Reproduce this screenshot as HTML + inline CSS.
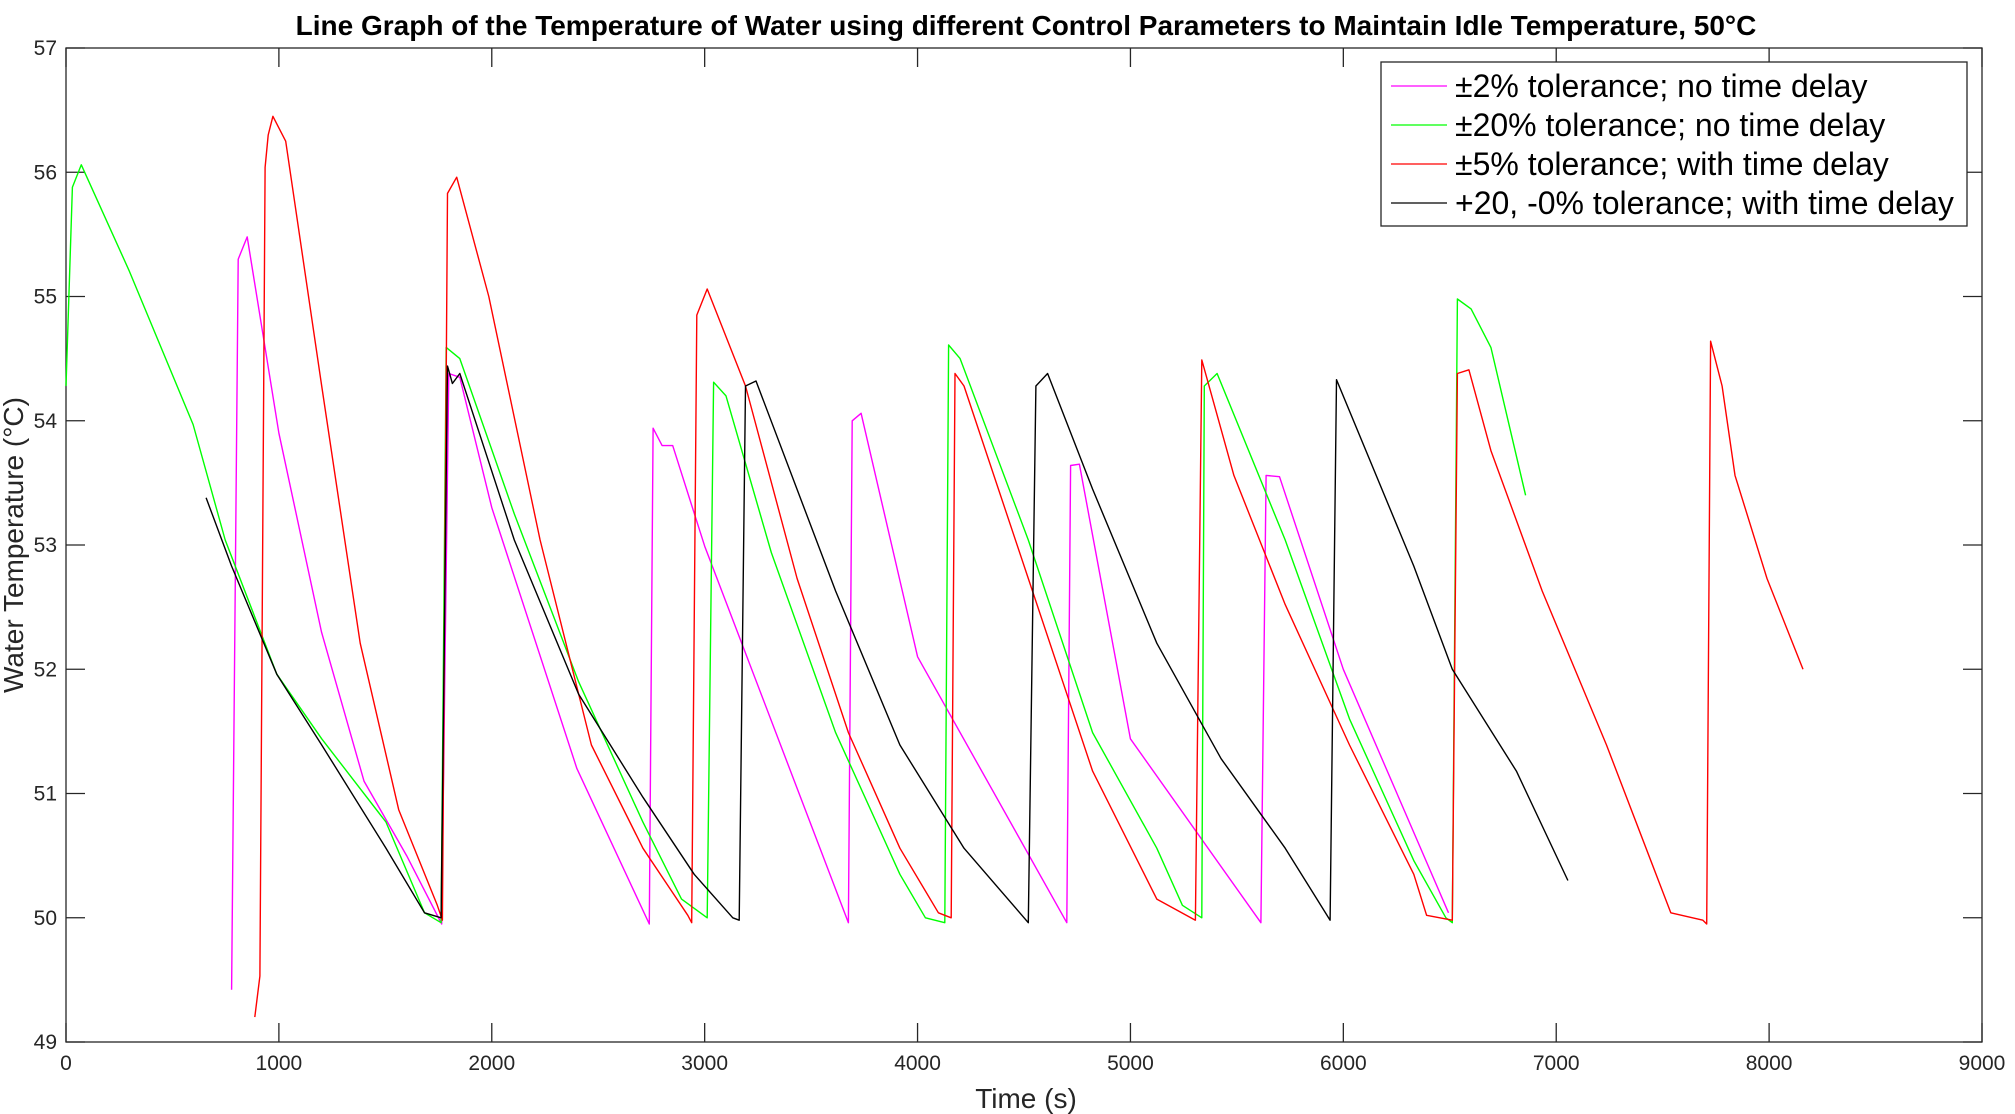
<!DOCTYPE html>
<html><head><meta charset="utf-8"><style>
html,body{margin:0;padding:0;background:#fff}
svg{display:block;font-family:"Liberation Sans",sans-serif}
</style></head><body>
<svg id="chart" width="2015" height="1114" viewBox="0 0 2015 1114" xmlns="http://www.w3.org/2000/svg">
<rect width="2015" height="1114" fill="#fff"/>
<text x="1026" y="35" text-anchor="middle" font-size="28" font-weight="bold" fill="#000">Line Graph of the Temperature of Water using different Control Parameters to Maintain Idle Temperature, 50°C</text>
<g id="axes"></g>
<g id="series"></g>
<text x="1026" y="1108" text-anchor="middle" font-size="28" fill="#262626">Time (s)</text>
<text transform="translate(23,545) rotate(-90)" text-anchor="middle" font-size="28" fill="#262626">Water Temperature (°C)</text>
<g>
<rect x="1381" y="62" width="586" height="164" fill="#fff" stroke="#262626" stroke-width="1.3"/>
<line x1="1391" y1="86" x2="1447" y2="86" stroke="#ff00ff" stroke-width="1.3"/>
<text x="1455" y="97" font-size="32" fill="#000">±2% tolerance; no time delay</text>
<line x1="1391" y1="125" x2="1447" y2="125" stroke="#00ff00" stroke-width="1.3"/>
<text x="1455" y="136" font-size="32" fill="#000">±20% tolerance; no time delay</text>
<line x1="1391" y1="164" x2="1447" y2="164" stroke="#ff0000" stroke-width="1.3"/>
<text x="1455" y="175" font-size="32" fill="#000">±5% tolerance; with time delay</text>
<line x1="1391" y1="203" x2="1447" y2="203" stroke="#000" stroke-width="1.3"/>
<text x="1455" y="214" font-size="32" fill="#000">+20, -0% tolerance; with time delay</text>
</g>
</svg>
<script>
const xTicks=[0,1000,2000,3000,4000,5000,6000,7000,8000,9000];
const yTicks=[49,50,51,52,53,54,55,56,57];
const magT=[778,809,851,1000,1200,1400,1600,1765,1780,1798,1850,2000,2400,2740,2758,2800,2850,3000,3675,3693,3735,4000,4701,4719,4760,5000,5613,5637,5700,6000,6494];
const magV=[49.42,55.3,55.48,53.9,52.3,51.1,50.5,49.95,52,54.38,54.35,53.3,51.2,49.95,53.94,53.8,53.8,52.99,49.96,54.0,54.06,52.1,49.96,53.64,53.65,51.44,49.96,53.56,53.55,52.0,50.04];
const grnT=[0,30,72,296,597,748,990,1201,1503,1684,1762,1786,1850,2106,2408,2710,2891,3012,3042,3100,3313,3615,3917,4037,4128,4146,4200,4520,4822,5124,5244,5335,5347,5407,5727,6029,6331,6482,6512,6536,6600,6693,6856];
const grnV=[54.28,55.88,56.06,55.21,53.97,53.04,51.96,51.44,50.77,50.04,49.96,54.59,54.5,53.25,51.9,50.77,50.15,50.0,54.31,54.2,52.94,51.49,50.35,50.0,49.96,54.61,54.5,53.04,51.49,50.56,50.1,50.0,54.28,54.38,53.04,51.6,50.46,50.0,49.96,54.98,54.9,54.59,53.4];
const redT=[887,911,935,950,972,1032,1201,1382,1563,1744,1768,1792,1835,1986,2227,2468,2710,2921,2939,2963,3012,3192,3434,3675,3917,4098,4158,4176,4218,4520,4822,5124,5305,5335,5486,5727,6029,6331,6391,6512,6536,6590,6693,6934,7236,7538,7689,7707,7725,7779,7840,7990,8159];
const redV=[49.2,49.53,56.04,56.3,56.45,56.25,54.28,52.21,50.87,50.1,49.98,55.83,55.96,55.0,53.04,51.39,50.56,50.02,49.96,54.85,55.06,54.28,52.73,51.49,50.56,50.04,50.0,54.38,54.28,52.73,51.18,50.15,49.98,54.49,53.56,52.52,51.39,50.35,50.02,49.98,54.38,54.41,53.76,52.63,51.39,50.04,49.98,49.95,54.64,54.28,53.56,52.73,52.0];
const blkT=[658,778,990,1201,1503,1684,1762,1792,1815,1850,2106,2408,2710,2951,3132,3162,3192,3241,3615,3917,4218,4520,4556,4611,4822,5124,5426,5727,5938,5968,6331,6512,6813,7055];
const blkV=[53.38,52.83,51.96,51.39,50.56,50.04,50.0,54.44,54.3,54.38,53.04,51.8,50.97,50.35,50.0,49.98,54.28,54.32,52.63,51.39,50.56,49.96,54.28,54.38,53.45,52.21,51.28,50.56,49.98,54.33,52.83,52.0,51.18,50.3];

const L=66,R=1982,T=48,B=1042;
const xs=v=>L+(v-0)/9000*(R-L);
const ys=v=>B-(v-49)/8*(B-T);
const NS='http://www.w3.org/2000/svg';
const ax=document.getElementById('axes');
function mk(tag,attrs,parent){const e=document.createElementNS(NS,tag);for(const k in attrs)e.setAttribute(k,attrs[k]);parent.appendChild(e);return e;}
const frame=mk('rect',{x:L,y:T,width:R-L,height:B-T,fill:'none',stroke:'#262626','stroke-width':1.3},ax);


xTicks.forEach(v=>{
  const x=xs(v);
  mk('line',{x1:x,y1:B,x2:x,y2:B-19,stroke:'#262626','stroke-width':1.3},ax);
  mk('line',{x1:x,y1:T,x2:x,y2:T+19,stroke:'#262626','stroke-width':1.3},ax);
  const t=mk('text',{x:x,y:B+28,'text-anchor':'middle','font-size':21,fill:'#262626'},ax);
  
  
  t.textContent=v;
});
yTicks.forEach(v=>{
  const y=ys(v);
  mk('line',{x1:L,y1:y,x2:L+19,y2:y,stroke:'#262626','stroke-width':1.3},ax);
  mk('line',{x1:R,y1:y,x2:R-19,y2:y,stroke:'#262626','stroke-width':1.3},ax);
  const t=mk('text',{x:L-9,y:y+7,'text-anchor':'end','font-size':21,fill:'#262626'},ax);
  
  
  t.textContent=v;
});
const sg=document.getElementById('series');
function line(ts,vs,color,name){
  const d=ts.map((t,i)=>(i?'L':'M')+xs(t).toFixed(1)+','+ys(vs[i]).toFixed(1)).join('');
  const p=mk('path',{d:d,fill:'none',stroke:color,'stroke-width':1.4,'stroke-linejoin':'round'},sg);
  
  
}
line(magT,magV,'#ff00ff','series-2pct-no-delay');
line(grnT,grnV,'#00ff00','series-20pct-no-delay');
line(redT,redV,'#ff0000','series-5pct-with-delay');
line(blkT,blkV,'#000000','series-20-0pct-with-delay');
</script>
</body></html>
